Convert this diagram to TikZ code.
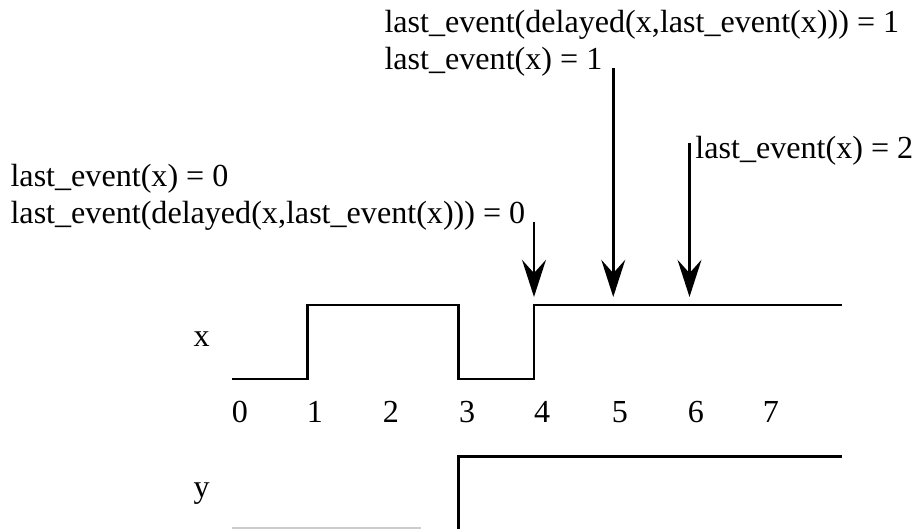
\documentclass[tikz,border=0pt]{standalone}
\usepackage{fontspec}
\setmainfont{Liberation Serif}
\usetikzlibrary{arrows.meta}
\begin{document}
\begin{tikzpicture}[x=1cm, y=1cm,
            wave/.style={line width=1.1pt, line join=miter},
            marker/.style={line width=1pt, -{Stealth[length=14pt, width=9pt, inset=5pt]}},
            lbl/.style={inner sep=0pt, anchor=base west, font=\fontsize{12.1}{13.8}\selectfont},
            num/.style={inner sep=0pt, anchor=base, font=\fontsize{12.1}{13.8}\selectfont}]
            \useasboundingbox (-3.073,-1.987) rectangle (9.113,5.020);
            % signals
            \draw[wave] (0,0) -- (1,0) -- (1,0.98) -- (3,0.98) -- (3,0) -- (4,0) -- (4,0.98) -- (8.08,0.98);
            \draw[wave] (3,-2.1) -- (3,-1.029) -- (8.08,-1.029);
            \draw[gray!40, line width=0.8pt] (0,-1.974) -- (2.5,-1.974);
            \node[num] (sigx) at (-0.401,0.424) {x};
            \node[num] (sigy) at (-0.401,-1.572) {y};
            % time axis
            \node[num] (t0) at (0.106,-0.579) {0};
            \node[num] (t1) at (1.099,-0.579) {1};
            \node[num] (t2) at (2.106,-0.579) {2};
            \node[num] (t3) at (3.115,-0.579) {3};
            \node[num] (t4) at (4.108,-0.579) {4};
            \node[num] (t5) at (5.139,-0.579) {5};
            \node[num] (t6) at (6.146,-0.579) {6};
            \node[num] (t7) at (7.139,-0.579) {7};
            % labels
            \node[lbl] (zeroa) at (-2.94,2.543) {last\_event(x) = 0};
            \node[lbl] (zerob) at (-2.94,2.066) {last\_event(delayed(x,last\_event(x))) = 0};
            \node[lbl] (onea) at (2.013,4.583) {last\_event(delayed(x,last\_event(x))) = 1};
            \node[lbl] (oneb) at (2.013,4.093) {last\_event(x) = 1};
            \node[lbl] (two) at (6.132,2.927) {last\_event(x) = 2};
            % arrows
            \coordinate (s4) at (4,2.073);
            \coordinate (e4) at (4,1.086);
            \coordinate (s5) at (5.05,4.113);
            \coordinate (e5) at (5.05,1.086);
            \coordinate (s6) at (6.06,3.126);
            \coordinate (e6) at (6.06,1.086);
            \draw[marker] (s4) -- (e4);
            \draw[marker] (s5) -- (e5);
            \draw[marker] (s6) -- (e6);
        \end{tikzpicture}
\end{document}
